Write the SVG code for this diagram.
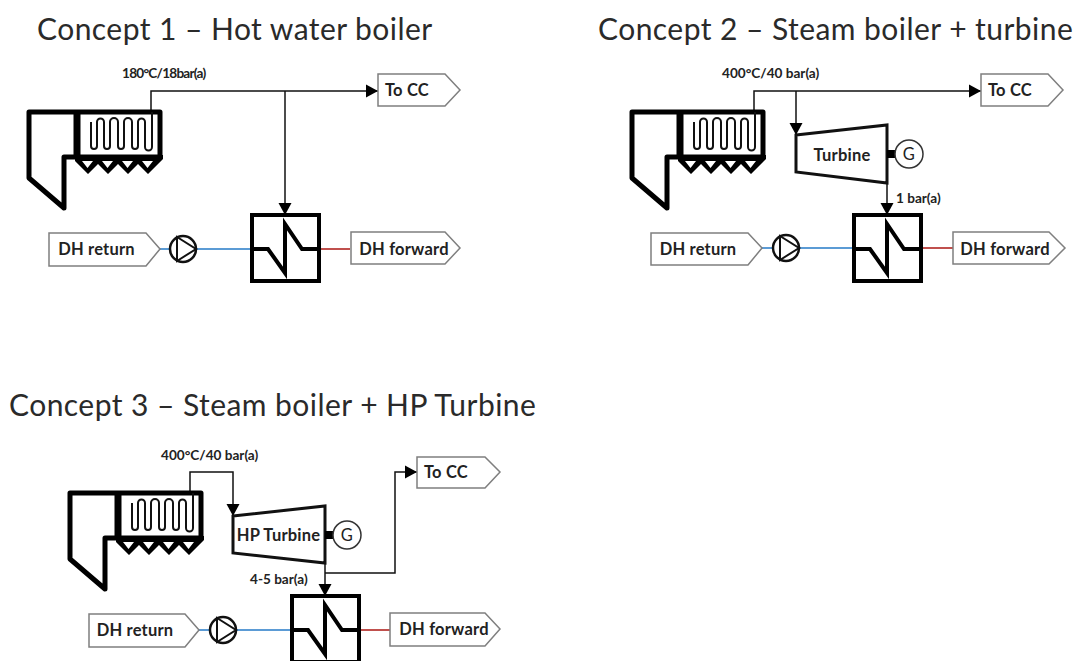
<svg xmlns="http://www.w3.org/2000/svg" width="1080" height="661" viewBox="0 0 1080 661">
<style>
text{font-family:Lato,"Liberation Sans",sans-serif;fill:#222}
.title{font-size:30px;fill:#2a2a2a;letter-spacing:.45px}
.lab{font-size:13.6px;font-weight:700}
.tag{font-size:16.5px;font-weight:700;text-anchor:middle;letter-spacing:.2px}
.tagbox{fill:#fff;stroke:#7f7f7f;stroke-width:1.5}
.thick{fill:none;stroke:#000;stroke-width:5;stroke-linejoin:round;stroke-linecap:round}
.thin{fill:none;stroke:#111;stroke-width:1.5}
.blue{stroke:#5b9bd5;stroke-width:2;fill:none}
.red{stroke:#c0504d;stroke-width:2;fill:none}
.turb{fill:#fff;stroke:#111;stroke-width:3}
.gen{fill:#fff;stroke:#333;stroke-width:1.5}
</style>
<defs>
<marker id="arrow" markerUnits="userSpaceOnUse" markerWidth="13" markerHeight="14" refX="12" refY="7" orient="auto"><path d="M0 0.500L12 7L0 13.500Z" fill="#000"/></marker>
<g id="boiler">
<path class="thick" d="M77 157H64V208L29 178V112H160V157H77"/>
<path class="thick" style="stroke-width:7;stroke-linecap:butt" d="M77 112V157"/>
<path class="thin" style="stroke-width:2" d="M91 122V146a3 3 0 0 0 6 0V122a3.500 3.500 0 0 1 7 0V146a3 3 0 0 0 6 0V122a4 4 0 0 1 8 0V146a3 3 0 0 0 6 0V122a4 4 0 0 1 8 0V146a3 3 0 0 0 6 0V122a3.500 3.500 0 0 1 7 0V147a3.500 3.500 0 0 0 7 0V112"/>
<path d="M75 155H163V159L148 174L138 164L128 174L118 164L108 174L98 164L88 174L75 161Z" fill="#000"/>
<path d="M82 161H93L87.500 168ZM102 161H113L107.500 168ZM122 161H133L127.500 168ZM142 161H153L147.500 168Z" fill="#fff"/>
</g>
<g id="hx">
<rect x="252" y="215" width="67" height="66" fill="#fff" stroke="#000" stroke-width="4"/>
<path class="thick" style="stroke-linecap:butt;stroke-linejoin:miter;stroke-width:4" d="M252 249H268L285 273V224L302 249H319"/>
</g>
<g id="pump">
<circle cx="183" cy="249" r="13" fill="#fff" stroke="#111" stroke-width="2.500"/>
<path d="M177 237V261L196 249Z" fill="none" stroke="#111" stroke-width="2"/>
</g>
</defs>

<text class="title" x="37" y="40">Concept 1 – Hot water boiler</text>
<text class="title" x="598" y="40">Concept 2 – Steam boiler + turbine</text>
<text class="title" x="9" y="416">Concept 3 – Steam boiler + HP Turbine</text>

<g id="connectors">
<path class="thin" marker-end="url(#arrow)" d="M151 112V91H378"/>
<path class="thin" marker-end="url(#arrow)" d="M285 91V215"/>
<path class="blue" d="M160 249H252"/><path class="red" d="M319 249H350"/>
<path class="thin" marker-end="url(#arrow)" d="M754 112V91H981"/>
<path class="thin" marker-end="url(#arrow)" d="M796 91V135"/>
<path class="thin" marker-end="url(#arrow)" d="M887 183V215"/>
<path class="blue" d="M762 248H854"/><path class="red" d="M922 248H953"/>
<path class="thin" marker-end="url(#arrow)" d="M190 493V472H233V516"/>
<path class="thin" marker-end="url(#arrow)" d="M325 563V596"/>
<path class="thin" marker-end="url(#arrow)" d="M325 573H395V472H417"/>
<path class="blue" d="M199 630H292"/><path class="red" d="M359 630H390"/>
</g>

<g id="c1-boiler"><use href="#boiler"/></g>
<g id="c1-hx"><use href="#hx"/></g>
<g id="c1-pump"><use href="#pump"/></g>
<g id="c1-tocc"><path class="tagbox" d="M378 74H445L460 90L445 106H378Z"/><text class="tag" x="407" y="96">To CC</text></g>
<g id="c1-return"><path class="tagbox" d="M49 233H146L160 249L146 266H49Z"/><text class="tag" x="96.500" y="255">DH return</text></g>
<g id="c1-forward"><path class="tagbox" d="M351 232H445L460 248L445 264H351Z"/><text class="tag" x="404" y="255">DH forward</text></g>
<text class="lab" x="122" y="78" style="letter-spacing:-.75px">180°C/18bar(a)</text>

<g id="c2-boiler"><use href="#boiler" x="603"/></g>
<g id="c2-hx"><use href="#hx" x="602"/></g>
<g id="c2-pump"><use href="#pump" x="603" y="-1"/></g>
<g id="c2-turbine"><path class="turb" d="M796 135L887 125V183L796 172Z"/><text class="tag" x="842" y="161">Turbine</text></g>
<g id="c2-gen"><rect x="887" y="150" width="9" height="8" fill="#000"/><circle class="gen" cx="909" cy="154" r="14"/><text class="tag" style="font-weight:400" x="909" y="160">G</text></g>
<g id="c2-tocc"><path class="tagbox" d="M981 74H1048L1063 90L1048 106H981Z"/><text class="tag" x="1010" y="96">To CC</text></g>
<g id="c2-return"><path class="tagbox" d="M651 233H748L762 248L748 265H651Z"/><text class="tag" x="698" y="255">DH return</text></g>
<g id="c2-forward"><path class="tagbox" d="M953 232H1049L1065 248L1049 264H953Z"/><text class="tag" x="1005" y="255">DH forward</text></g>
<text class="lab" x="722" y="78">400°C/40 bar(a)</text>
<text class="lab" x="896" y="203">1 bar(a)</text>

<g id="c3-boiler"><use href="#boiler" x="41" y="381"/></g>
<g id="c3-hx"><use href="#hx" x="40" y="381"/></g>
<g id="c3-pump"><use href="#pump" x="40" y="381"/></g>
<g id="c3-turbine"><path class="turb" d="M233 516L325 506V563L233 553Z"/><text class="tag" x="278.500" y="541">HP Turbine</text></g>
<g id="c3-gen"><rect x="325" y="531" width="9" height="8" fill="#000"/><circle class="gen" cx="347" cy="535" r="14"/><text class="tag" style="font-weight:400" x="347" y="541">G</text></g>
<g id="c3-tocc"><path class="tagbox" d="M417 457H485L500 472L485 488H417Z"/><text class="tag" x="446" y="478">To CC</text></g>
<g id="c3-return"><path class="tagbox" d="M89 614H185L199 630L185 647H89Z"/><text class="tag" x="135" y="636">DH return</text></g>
<g id="c3-forward"><path class="tagbox" d="M390 613H485L500 629L485 646H390Z"/><text class="tag" x="444" y="635">DH forward</text></g>
<text class="lab" x="161" y="460">400°C/40 bar(a)</text>
<text class="lab" x="250" y="584">4-5 bar(a)</text>
</svg>
